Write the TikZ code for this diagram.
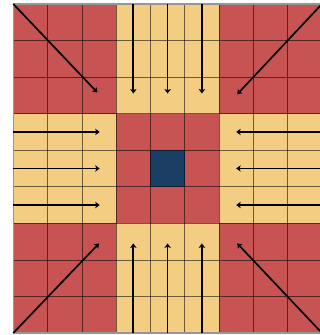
\documentclass[tikz,border=0pt]{standalone}
\usetikzlibrary{arrows.meta}
\newcommand{\NC}{9}
\newcommand{\CX}{1.029}
\newcommand{\CY}{1.097}
\definecolor{gdcorner}{RGB}{199,83,82}
\definecolor{gdband}{RGB}{242,205,130}
\definecolor{gdsink}{RGB}{27,62,101}
\definecolor{gdframe}{RGB}{150,150,150}

\begin{document}
\begin{tikzpicture}[
    x=\CX cm, y=\CY cm,
    >={Stealth[length=3.8pt,width=5.4pt,inset=0.9pt]},
    cellline/.style={draw=black, draw opacity=0.55, line width=0.6pt},
    frame/.style={draw=gdframe, line width=0.9pt},
    flow/.style={->, black, line width=1.45pt},
  ]
  \useasboundingbox (-0.388,-0.055) rectangle (8.942,9.109);

  %% ================= the cells =================
  \fill[gdcorner] (0,0) rectangle (\NC,\NC);
  \fill[gdband] (3,0) rectangle (6,\NC);
  \fill[gdband] (0,3) rectangle (\NC,6);
  \fill[gdcorner] (3,3) rectangle (6,6);
  \fill[gdsink] (4,4) rectangle (5,5);

  \foreach \k in {1,...,8} {
    \draw[cellline] (\k,0) -- (\k,\NC);
    \draw[cellline] (0,\k) -- (\NC,\k);
  }
  \draw[frame] (0,0) rectangle (\NC,\NC);

  %% ================= the flow towards the centre =================
  % straight arrows along the four bands
  \foreach \i in {3,4,5} {
    \coordinate (top-\i-s) at (\i+0.5,\NC);
    \coordinate (top-\i-e) at (\i+0.5,6.55);
    \coordinate (bot-\i-s) at (\i+0.5,0);
    \coordinate (bot-\i-e) at (\i+0.5,2.45);
    \coordinate (lft-\i-s) at (0,\i+0.5);
    \coordinate (lft-\i-e) at (2.52,\i+0.5);
    \coordinate (rgt-\i-s) at (\NC,\i+0.5);
    \coordinate (rgt-\i-e) at (6.5,\i+0.5);
    \draw[flow] (top-\i-s) -- (top-\i-e);
    \draw[flow] (bot-\i-s) -- (bot-\i-e);
    \draw[flow] (lft-\i-s) -- (lft-\i-e);
    \draw[flow] (rgt-\i-s) -- (rgt-\i-e);
  }

  % diagonal arrows out of the corners
  \coordinate (tl-s) at (0,\NC);   \coordinate (tl-e) at (2.45,6.58);
  \coordinate (tr-s) at (\NC,\NC); \coordinate (tr-e) at (6.53,6.53);
  \coordinate (bl-s) at (0,0);     \coordinate (bl-e) at (2.5,2.45);
  \coordinate (br-s) at (\NC,0);   \coordinate (br-e) at (6.53,2.45);
  \draw[flow] (tl-s) -- (tl-e);
  \draw[flow] (tr-s) -- (tr-e);
  \draw[flow] (bl-s) -- (bl-e);
  \draw[flow] (br-s) -- (br-e);

\end{tikzpicture}
\end{document}
